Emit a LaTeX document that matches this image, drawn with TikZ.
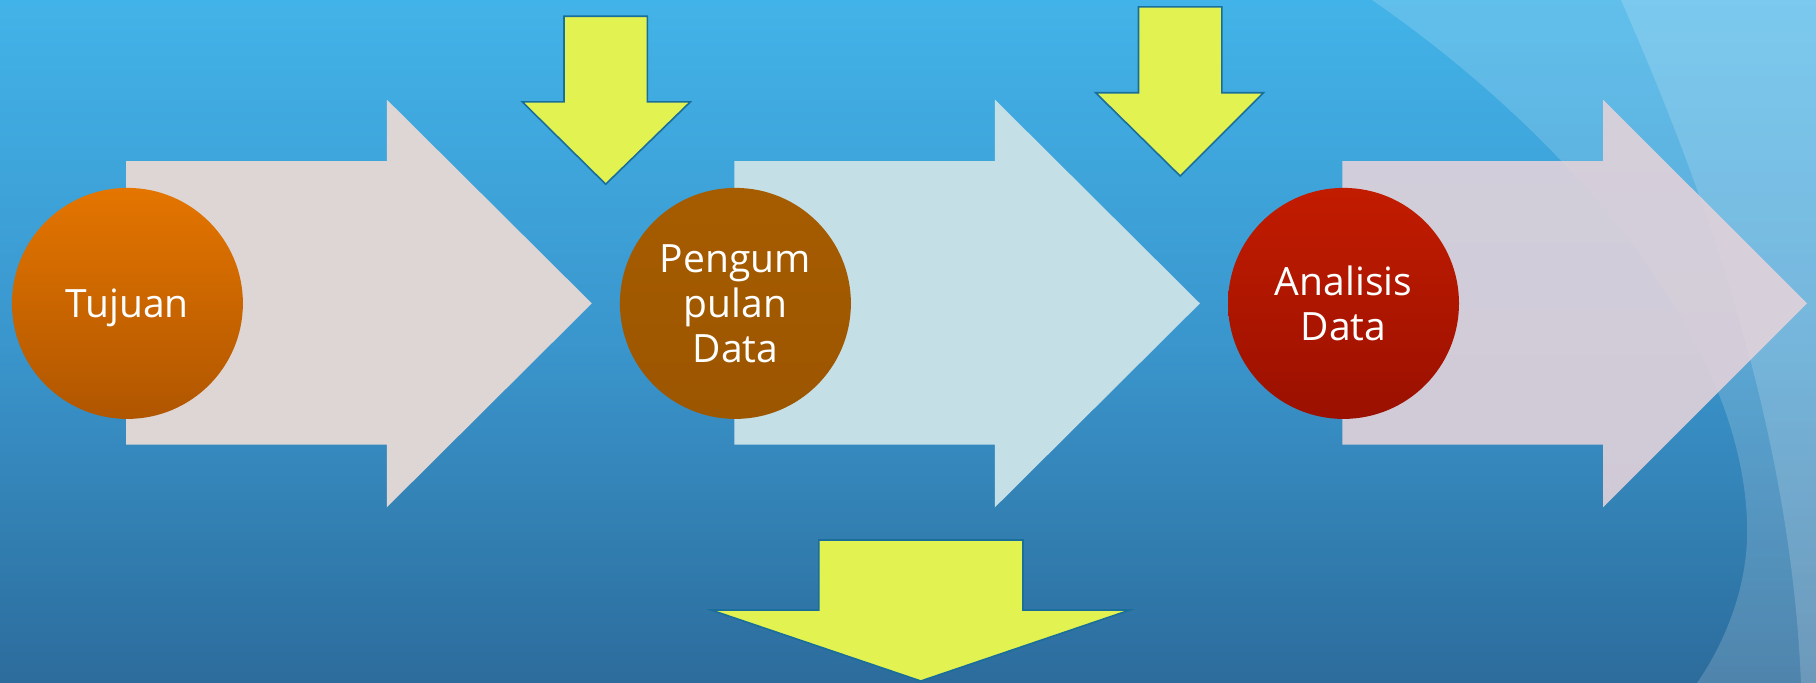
\documentclass[tikz,border=0pt]{standalone}
\usepackage{fontspec}
\setmainfont{Open Sans}
\definecolor{bgtop}{RGB}{66,179,232}
\definecolor{bgmid}{RGB}{58,150,205}
\definecolor{bgbot}{RGB}{44,108,156}
\definecolor{arrowA}{RGB}{221,214,213}
\definecolor{arrowB}{RGB}{196,223,230}
\definecolor{arrowC}{RGB}{226,210,218}
\definecolor{yfill}{RGB}{226,242,80}
\definecolor{yline}{RGB}{26,110,154}
\definecolor{orTop}{RGB}{228,117,0}
\definecolor{orBot}{RGB}{176,86,0}
\definecolor{brTop}{RGB}{166,92,0}
\definecolor{brBot}{RGB}{156,86,0}
\definecolor{rdTop}{RGB}{194,28,0}
\definecolor{rdBot}{RGB}{154,16,0}
\tikzset{
  bigarrow/.style={draw=none},
  yellowarrow/.style={fill=yfill, draw=yline, line width=1.6pt, line join=miter},
  stagecircle/.style={circle, minimum size=231pt, inner sep=0pt, text=white, align=center,
    font=\fontsize{39}{45}\selectfont},
  glow/.style={fill=white, fill opacity=0.17, draw=none}
}
\begin{document}
\begin{tikzpicture}[x=1pt,y=-1pt]
\useasboundingbox (0,0) rectangle (1816,683);
% background
\shade[top color=bgtop, bottom color=bgbot, middle color=bgmid] (0,0) rectangle (1816,683);
% light curved bands on the right
\fill[glow] (1372,0) .. controls (1560,130) and (1740,330) .. (1747,521)
  .. controls (1750,590) and (1720,650) .. (1697,683) -- (1816,683) -- (1816,0) -- cycle;
\fill[glow] (1621,0) .. controls (1700,180) and (1790,420) .. (1801,683) -- (1816,683) -- (1816,0) -- cycle;
% big arrows
\fill[bigarrow, arrowA] (126.2,161) -- (386.8,161) -- (386.8,99.6) -- (591.8,303.4)
  -- (386.8,507.3) -- (386.8,444.7) -- (126.2,444.7) -- cycle;
\fill[bigarrow, arrowB] (734.3,161) -- (994.9,161) -- (994.9,99.6) -- (1199.9,303.4)
  -- (994.9,507.3) -- (994.9,444.7) -- (734.3,444.7) -- cycle;
\fill[bigarrow, arrowC, fill opacity=0.9] (1342.4,161) -- (1603,161) -- (1603,99.6) -- (1807,303.4)
  -- (1603,507.3) -- (1603,444.7) -- (1342.4,444.7) -- cycle;
% yellow arrows
\draw[yellowarrow] (564,16.2) -- (647.4,16.2) -- (647.4,101.9) -- (690.3,101.9) -- (605.7,184.2)
  -- (522.3,101.9) -- (564,101.9) -- cycle;
\draw[yellowarrow] (1138.5,6.9) -- (1221.9,6.9) -- (1221.9,92.7) -- (1263.6,92.7) -- (1180.2,176)
  -- (1095.6,92.7) -- (1138.5,92.7) -- cycle;
\draw[yellowarrow] (818.8,540) -- (1023,540) -- (1023,610) -- (1130,610) -- (920.8,681)
  -- (711,610) -- (818.8,610) -- cycle;
% stage circles
\node[stagecircle, top color=orTop, bottom color=orBot, text depth=0pt] (tujuan) at (127.4,303.4) {Tujuan};
\node[stagecircle, top color=brTop, bottom color=brBot] (pengumpulan) at (735.4,303.4) {Pengum\\pulan\\Data};
\node[stagecircle, top color=rdTop, bottom color=rdBot] (analisis) at (1343.5,303.4) {Analisis\\Data};
\end{tikzpicture}
\end{document}
